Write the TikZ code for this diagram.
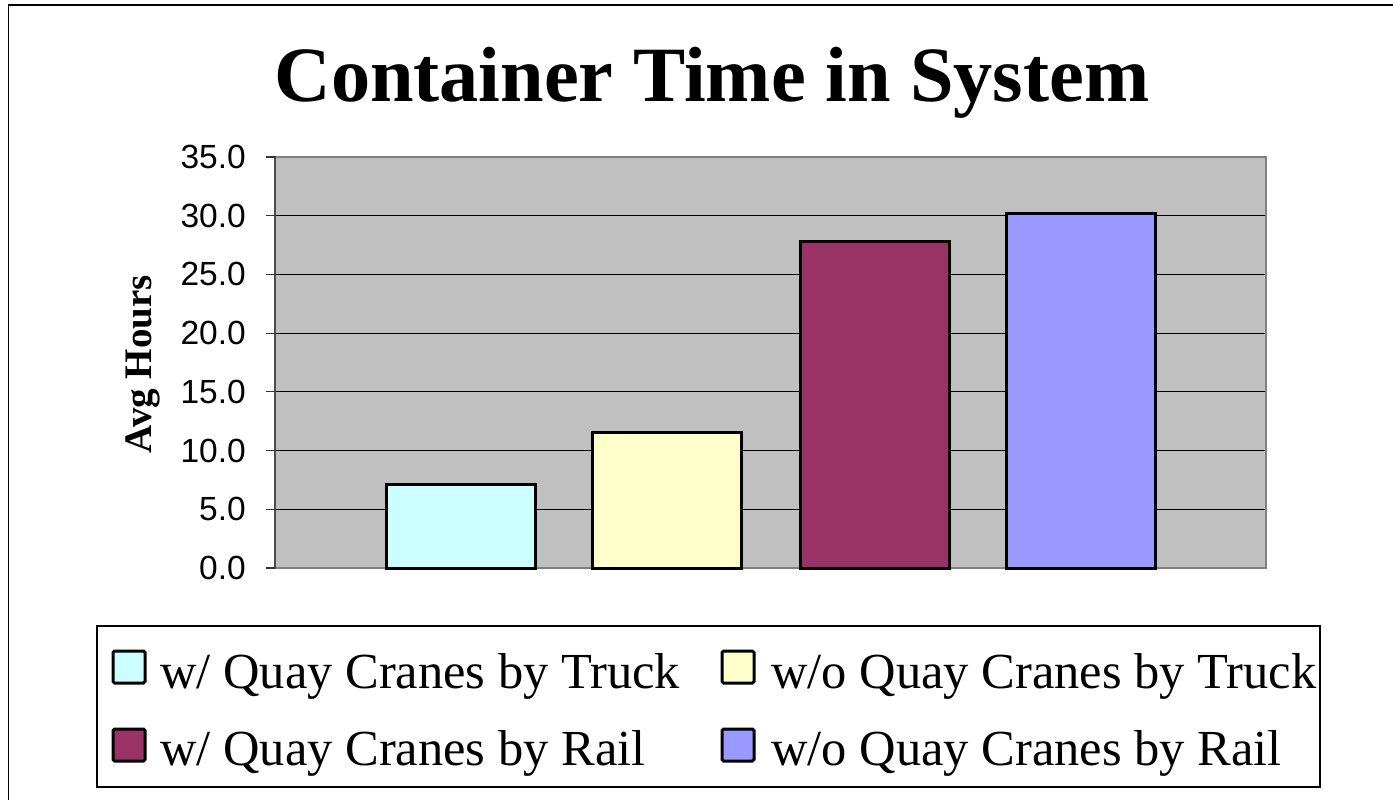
\documentclass[tikz,border=0pt]{standalone}
\usepackage{fontspec}
\setmainfont{Liberation Serif}
\newfontfamily\arialfont{Liberation Sans}
\definecolor{plotbg}{HTML}{C0C0C0}
\definecolor{plotedge}{HTML}{808080}
\definecolor{cA}{HTML}{CCFFFF}
\definecolor{cB}{HTML}{FFFFCC}
\definecolor{cC}{HTML}{993366}
\definecolor{cD}{HTML}{9999FF}
\tikzset{
  barbox/.style={draw=black, line width=3pt, line join=miter},
  gridln/.style={draw=black, line width=1pt},
  ticklbl/.style={anchor=east, font=\arialfont\fontsize{33.5}{33.5}\selectfont, inner sep=0pt},
  legtxt/.style={anchor=base west, font=\fontsize{50.5}{50.5}\selectfont, inner sep=0pt},
  legmark/.style={draw=black, line width=3pt, rounded corners=1.5pt},
}
\begin{document}
\begin{tikzpicture}[x=1pt,y=-1pt]
\useasboundingbox (0,0) rectangle (1393,800);
% outer frame
\draw[line width=1.5pt] (8.5,805) -- (8.5,5) -- (1400,5);
% title
\node[anchor=base, font=\bfseries\fontsize{78.3}{78.3}\selectfont, inner sep=0pt] (title) at (712,101.5) {Container Time in System};
% plot area
\fill[plotbg] (275,157) rectangle (1266,568);
\foreach \v in {5,10,15,20,25,30} {
  \draw[gridln] (275,{568-\v*411/35}) -- (1266,{568-\v*411/35});
}
\draw[plotedge, line width=2.5pt] (275,157) -- (1266,157) -- (1266,568) -- (275,568);
\draw[black!70, line width=2pt] (275,156) -- (275,569);
\foreach \v/\t in {0/0.0,5/5.0,10/10.0,15/15.0,20/20.0,25/25.0,30/30.0,35/35.0} {
  \draw[black!80, line width=1.2pt] (266,{568-\v*411/35}) -- (275,{568-\v*411/35});
  \node[ticklbl] (tk\v) at (246,{568-\v*411/35}) {\t};
}
% axis label
\node[rotate=90, anchor=base, font=\bfseries\fontsize{39}{39}\selectfont, inner sep=0pt] (ylab) at (151,364) {Avg Hours};
% bars
\path[barbox, fill=cA] (386.5,568) rectangle (535,{568-7.15*411/35});
\path[barbox, fill=cB] (592.5,568) rectangle (741,{568-11.5*411/35});
\path[barbox, fill=cC] (800.5,568) rectangle (949,{568-27.8*411/35});
\path[barbox, fill=cD] (1006.5,568) rectangle (1155,{568-30.15*411/35});
% legend
\draw[line width=1.2pt] (97,626) rectangle (1320,787);
\draw[legmark, fill=cA] (113,651) rectangle (145,683);
\node[legtxt] (l1) at (160,688) {w/ Quay Cranes by Truck};
\draw[legmark, fill=cB] (722,651) rectangle (754,683);
\node[legtxt] (l2) at (771,688) {w/o Quay Cranes by Truck};
\draw[legmark, fill=cC] (113,729) rectangle (145,761);
\node[legtxt] (l3) at (160,765) {w/ Quay Cranes by Rail};
\draw[legmark, fill=cD] (722,729) rectangle (754,761);
\node[legtxt] (l4) at (771,765) {w/o Quay Cranes by Rail};
\end{tikzpicture}
\end{document}
